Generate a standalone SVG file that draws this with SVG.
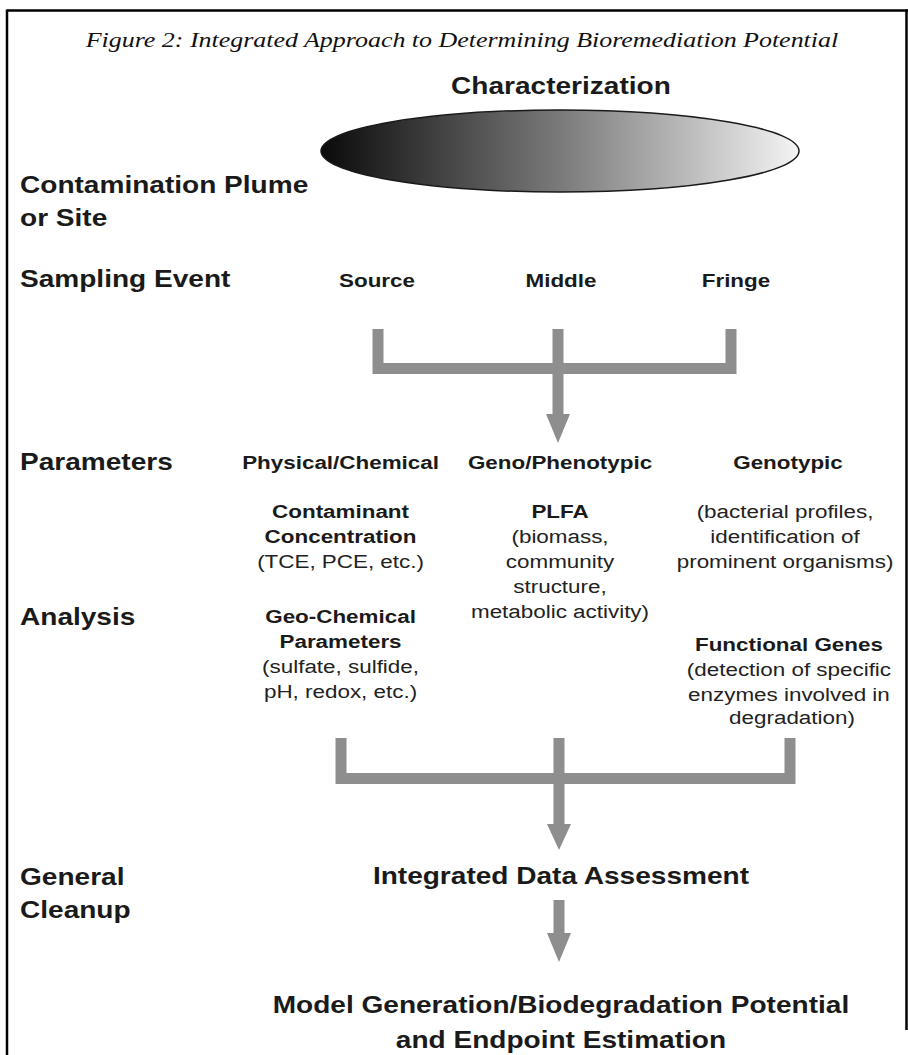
<svg xmlns="http://www.w3.org/2000/svg" width="908" height="1055" viewBox="0 0 908 1055">
<defs>
<linearGradient id="plume" x1="0" y1="0" x2="1" y2="0">
<stop offset="0" stop-color="#0a0a0a"/>
<stop offset="0.5" stop-color="#7a7a7a"/>
<stop offset="1" stop-color="#f4f4f4"/>
</linearGradient>
<style>
.t{font-family:"Liberation Serif","Times New Roman",serif;font-style:italic;font-size:22px;fill:#111}
.lbl{font-family:"Liberation Sans",Arial,sans-serif;font-weight:bold;font-size:23px;fill:#1a1a1a}
.hd{font-family:"Liberation Sans",Arial,sans-serif;font-weight:bold;font-size:23px;fill:#1a1a1a;text-anchor:middle}
.b{font-family:"Liberation Sans",Arial,sans-serif;font-weight:bold;font-size:19px;fill:#1a1a1a;text-anchor:middle}
.r{font-family:"Liberation Sans",Arial,sans-serif;font-size:19px;fill:#222;text-anchor:middle}
.con{fill:none;stroke:#8e8e8e;stroke-width:11;stroke-linejoin:miter}
.ah{fill:#8e8e8e}
</style>
</defs>
<rect width="908" height="1055" fill="#fff"/>
<g id="frame" stroke="#000" stroke-width="2.5">
<line x1="7" y1="10.5" x2="908" y2="10.5"/>
<line x1="7" y1="9.5" x2="7" y2="1055"/>
<line x1="906.5" y1="9.5" x2="906.5" y2="1030"/>
</g>
<g id="title" transform="scale(1.18 1)">
<text class="t" x="391.5" y="47" text-anchor="middle">Figure 2:  Integrated Approach to Determining Bioremediation Potential</text>
</g>
<g id="characterization" transform="scale(1.22 1)">
<text class="hd" x="459.8" y="94">Characterization</text>
</g>
<g id="row-labels" transform="scale(1.22 1)">
<text class="lbl" x="16.4" y="193">Contamination Plume</text>
<text class="lbl" x="16.4" y="226">or Site</text>
<text class="lbl" x="16.4" y="287">Sampling Event</text>
<text class="lbl" x="16.4" y="470">Parameters</text>
<text class="lbl" x="16.4" y="625">Analysis</text>
<text class="lbl" x="16.4" y="885">General</text>
<text class="lbl" x="16.4" y="918">Cleanup</text>
</g>
<g id="plume">
<ellipse cx="560" cy="151" rx="239" ry="41" fill="url(#plume)" stroke="#1a1a1a" stroke-width="1.5"/>
</g>
<g id="source" transform="scale(1.18 1)"><text class="b" x="319.5" y="287">Source</text></g>
<g id="middle" transform="scale(1.18 1)"><text class="b" x="475.4" y="287">Middle</text></g>
<g id="fringe" transform="scale(1.18 1)"><text class="b" x="623.7" y="287">Fringe</text></g>
<g id="physical-chemical" transform="scale(1.18 1)">
<text class="b" x="288.6" y="469">Physical/Chemical</text>
<text class="b" x="288.6" y="518">Contaminant</text>
<text class="b" x="288.6" y="543">Concentration</text>
<text class="r" x="288.6" y="568">(TCE, PCE, etc.)</text>
<text class="b" x="288.6" y="623">Geo-Chemical</text>
<text class="b" x="288.6" y="648">Parameters</text>
<text class="r" x="288.6" y="673">(sulfate, sulfide,</text>
<text class="r" x="288.6" y="698">pH, redox, etc.)</text>
</g>
<g id="geno-phenotypic" transform="scale(1.18 1)">
<text class="b" x="474.6" y="469">Geno/Phenotypic</text>
<text class="b" x="474.6" y="518">PLFA</text>
<text class="r" x="474.6" y="543">(biomass,</text>
<text class="r" x="474.6" y="568">community</text>
<text class="r" x="474.6" y="593">structure,</text>
<text class="r" x="474.6" y="618">metabolic activity)</text>
</g>
<g id="genotypic" transform="scale(1.18 1)">
<text class="b" x="667.8" y="469">Genotypic</text>
<text class="r" x="665.3" y="518">(bacterial profiles,</text>
<text class="r" x="665.3" y="543">identification of</text>
<text class="r" x="665.3" y="568">prominent organisms)</text>
<text class="b" x="668.6" y="651">Functional Genes</text>
<text class="r" x="668.6" y="676">(detection of specific</text>
<text class="r" x="668.6" y="701">enzymes involved in</text>
<text class="r" x="671.2" y="724">degradation)</text>
</g>
<g id="integrated" transform="scale(1.22 1)">
<text class="hd" x="459.8" y="884">Integrated Data Assessment</text>
</g>
<g id="model" transform="scale(1.22 1)">
<text class="hd" x="459.8" y="1013">Model Generation/Biodegradation Potential</text>
<text class="hd" x="459.8" y="1048">and Endpoint Estimation</text>
</g>
<g id="connectors">
<path class="con" d="M378 329 V368.5 H731 V329"/>
<path class="con" d="M558 329 V416"/>
<polygon class="ah" points="546,414 570,414 558,443"/>
<path class="con" d="M341 738 V778.5 H790 V738"/>
<path class="con" d="M559 738 V826"/>
<polygon class="ah" points="547,824 571,824 559,850"/>
<path class="con" d="M559 900 V935"/>
<polygon class="ah" points="547,933 571,933 559,962"/>
</g>
</svg>
